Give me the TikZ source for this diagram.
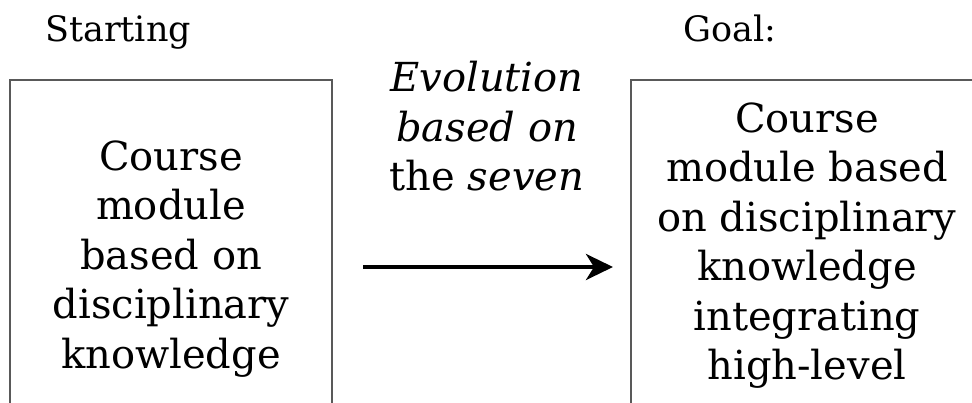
\documentclass[tikz,border=0pt]{standalone}
\usepackage{fontspec}
\setmainfont{DejaVu Serif}
\usetikzlibrary{arrows.meta}
\begin{document}
\begin{tikzpicture}[x=1pt,y=-1pt,
  boxframe/.style={draw=black!65, line width=1.5pt},
  bigtext/.style={font=\fontsize{40}{49.5}\selectfont, align=center, inner sep=0pt, anchor=base},
  titletext/.style={font=\fontsize{35}{42}\selectfont, inner sep=0pt, anchor=base west},
  bigarrow/.style={line width=4pt, -{Stealth[length=27pt,width=26pt,inset=8pt]}}]
\useasboundingbox (0,0) rectangle (972,403);
\clip (0,0) rectangle (972,403);
\fill[white] (0,0) rectangle (972,403);
\draw[boxframe] (10,80) rectangle (332,460);
\draw[boxframe] (631,80) rectangle (990,460);
\node[titletext] (start) at (45,42) {Starting};
\node[titletext] (goal) at (683,42) {Goal:};
\node[bigtext] (left) at (171,368) {Course\\module\\based on\\disciplinary\\knowledge};
\node[bigtext] (mid) at (487,191) {\textit{Evolution}\\\textit{based on}\\the \textit{seven}};
\node[bigtext] (right) at (807,434) {Course\\module based\\on disciplinary\\knowledge\\integrating\\high-level\\[5pt]cognitive skills};
\coordinate (a1) at (363,267);
\coordinate (a2) at (613,267);
\draw[bigarrow] (a1) -- (a2);
\end{tikzpicture}
\end{document}
